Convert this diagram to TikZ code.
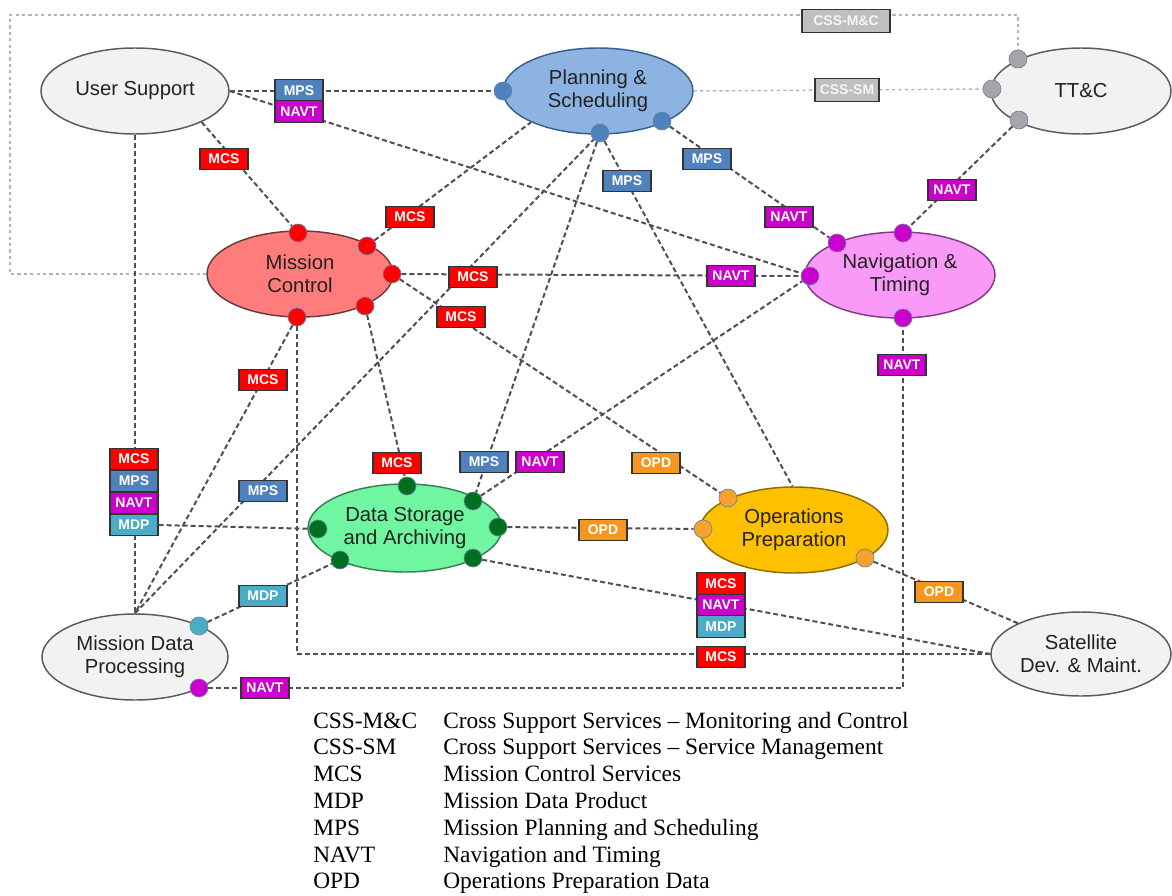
\documentclass[tikz,border=0pt]{standalone}
\usepackage{fontspec}
\setmainfont{Liberation Serif}
\newfontfamily\arialfont{Liberation Sans}
\usetikzlibrary{shapes.geometric}

\definecolor{linkgray}{HTML}{505050}
\definecolor{cssgray}{HTML}{B4B4B4}
\definecolor{usfill}{HTML}{F2F2F2}
\definecolor{usdraw}{HTML}{5A5A5A}
\definecolor{psfill}{HTML}{8DB3E2}
\definecolor{psdraw}{HTML}{3A5F8F}
\definecolor{mcfill}{HTML}{FF7C7C}
\definecolor{mcdraw}{HTML}{6B3A3A}
\definecolor{ntfill}{HTML}{F99AF9}
\definecolor{ntdraw}{HTML}{7F3F7F}
\definecolor{dsfill}{HTML}{70F5A0}
\definecolor{dsdraw}{HTML}{3B7F55}
\definecolor{opfill}{HTML}{FFC000}
\definecolor{opdraw}{HTML}{8C6D00}
\definecolor{mcsred}{HTML}{FF0000}
\definecolor{mpsblue}{HTML}{4F81BD}
\definecolor{navtmag}{HTML}{CC00CC}
\definecolor{mdpteal}{HTML}{4BACC6}
\definecolor{opdorange}{HTML}{F5961E}
\definecolor{cssfill}{HTML}{BFBFBF}
\definecolor{tagedge}{HTML}{333333}
\definecolor{textdark}{HTML}{222222}
\definecolor{dsdot}{HTML}{007020}
\definecolor{opdot}{HTML}{F8A12B}
\definecolor{ttdot}{HTML}{A6A6A6}
\definecolor{dotedge}{HTML}{6A84A8}

\tikzset{
  unit/.style 2 args={ellipse, minimum width=#1*0.75pt, minimum height=#2*0.75pt,
    inner sep=0pt, line width=1.1pt, align=center, text=textdark,
    font=\arialfont\fontsize{15.2}{17.3}\selectfont},
  dot/.style={circle, minimum size=13.5pt, inner sep=0pt, draw=dotedge, line width=0.5pt},
  lnk/.style={draw=linkgray, line width=1.5pt, dash pattern=on 3.75pt off 2.25pt},
  csslnk/.style={draw=cssgray, line width=1.1pt, dash pattern=on 2.4pt off 2.4pt},
  tag/.style={rectangle, draw=tagedge, line width=0.8pt, minimum width=36pt,
    minimum height=16pt, inner sep=0pt, text=white,
    font=\arialfont\bfseries\fontsize{10.5}{12}\selectfont},
  mcs/.style={tag, fill=mcsred},
  mps/.style={tag, fill=mpsblue},
  navt/.style={tag, fill=navtmag},
  mdp/.style={tag, fill=mdpteal},
  opd/.style={tag, fill=opdorange},
  css/.style={tag, fill=cssfill, text=white!92!gray, minimum height=17pt},
  legend/.style={anchor=base west, inner sep=0pt, font=\fontsize{17.55}{20}\selectfont}
}

\begin{document}
\begin{tikzpicture}[x=0.75pt,y=-0.75pt]
\useasboundingbox (0,0) rectangle (1172,896);

% ---- services ----
\node[unit={188}{86}, fill=usfill, draw=usdraw] (us)  at (135,91)  {User Support};
\node[unit={190}{86}, fill=psfill, draw=psdraw] (ps)  at (598,91)  {Planning \&\\Scheduling};
\node[unit={180}{86}, fill=usfill, draw=usdraw] (ttc) at (1081,91) {TT\&C};
\node[unit={186}{86}, fill=mcfill, draw=mcdraw] (mc)  at (300,274) {Mission\\Control};
\node[unit={190}{86}, fill=ntfill, draw=ntdraw] (nt)  at (900,275) {Navigation \&\\Timing};
\node[unit={194}{88}, fill=dsfill, draw=dsdraw] (dsa) at (405,528) {Data Storage\\and Archiving};
\node[unit={188}{86}, fill=opfill, draw=opdraw] (op)  at (794,530) {Operations\\Preparation};
\node[unit={186}{86}, fill=usfill, draw=usdraw] (mdp) at (135,657) {Mission Data\\Processing};
\node[unit={180}{84}, fill=usfill, draw=usdraw] (sdm) at (1081,654) {Satellite\\Dev. \& Maint.};

% ---- interface points ----
\node[dot, fill=mcsred] (mc1) at (298,233) {};
\node[dot, fill=mcsred] (mc2) at (367,246) {};
\node[dot, fill=mcsred] (mc3) at (392,274) {};
\node[dot, fill=mcsred] (mc4) at (365,306) {};
\node[dot, fill=mcsred] (mc5) at (297,317) {};
\node[dot, fill=mpsblue] (ps1) at (503,91) {};
\node[dot, fill=mpsblue] (ps2) at (600,133) {};
\node[dot, fill=mpsblue] (ps3) at (662,121) {};
\node[dot, fill=ttdot] (tt1) at (1018,59) {};
\node[dot, fill=ttdot] (tt2) at (992,89) {};
\node[dot, fill=ttdot] (tt3) at (1019,120) {};
\node[dot, fill=navtmag] (nt1) at (837,243) {};
\node[dot, fill=navtmag] (nt2) at (903,233) {};
\node[dot, fill=navtmag] (nt3) at (810,276) {};
\node[dot, fill=navtmag] (nt4) at (903,318) {};
\node[dot, fill=dsdot] (ds1) at (407,486) {};
\node[dot, fill=dsdot] (ds2) at (473,501) {};
\node[dot, fill=dsdot] (ds3) at (498,527) {};
\node[dot, fill=dsdot] (ds4) at (473,558) {};
\node[dot, fill=dsdot] (ds5) at (318,529) {};
\node[dot, fill=dsdot] (ds6) at (340,560) {};
\node[dot, fill=opdot] (op1) at (728,498) {};
\node[dot, fill=opdot] (op2) at (703,529) {};
\node[dot, fill=opdot] (op3) at (865,558) {};
\node[dot, fill=mdpteal] (md1) at (199,626) {};
\node[dot, fill=navtmag] (md2) at (199,688) {};

% ---- cross support links ----
\coordinate (cbl) at (10,274);
\coordinate (ctl) at (10,15);
\draw[csslnk] (mc.west) -- (cbl) -- (ctl) -| (tt1);
\draw[csslnk] (ps.east) -- (tt2);

% ---- service links ----
\draw[lnk] (us.east) -- (ps1);
\draw[lnk] (us.east) -- (nt3);
\draw[lnk] (us.-25.5) -- (mc1);
\draw[lnk] (us.south) -- (mdp.north);
\draw[lnk] (mc2) -- (ps.205.5);
\draw[lnk] (mc3) -- (nt3);
\draw[lnk] (mc3) -- (op1);
\draw[lnk] (mc4) -- (ds1);
\draw[lnk] (mc5) -- (mdp.north);
\draw[lnk] (mc5) |- (sdm.west);
\draw[lnk] (mdp.north) -- (ps2);
\draw[lnk] (md1) -- (ds6);
\draw[lnk] (md2) -| (nt4);
\draw[lnk] (ps2) -- (ds2);
\draw[lnk] (ds2) -- (nt3);
\draw[lnk] (ps2) -- (op.92);
\draw[lnk] (ps3) -- (nt1);
\draw[lnk] (tt3) -- (nt2);
\draw[lnk] (ds3) -- (op2);
\draw[lnk] (ds4) -- (sdm.west);
\draw[lnk] (op3) -- (sdm.154);

% ---- interface labels ----
\node[css, minimum width=66pt] (tcssmc) at (846,21) {CSS-M\&C};
\node[css, minimum width=48pt] (tcsssm) at (847,90) {CSS-SM};

\node[mps]  (t1)  at (299,90.5) {MPS};
\node[navt] (t2)  at (299,111.5) {NAVT};
\node[mcs]  (t3)  at (224,159) {MCS};
\node[mcs]  (t4)  at (410,217) {MCS};
\node[mcs]  (t5)  at (473,277) {MCS};
\node[navt] (t6)  at (731,276) {NAVT};
\node[mcs]  (t7)  at (461,317) {MCS};
\node[opd]  (t8)  at (656,463) {OPD};
\node[mcs]  (t9)  at (397,463) {MCS};
\node[mcs]  (t10) at (263,380) {MCS};
\node[mcs]  (t11) at (721,657) {MCS};
\node[mps]  (t12) at (263,491) {MPS};
\node[mdp]  (t13) at (263,596) {MDP};
\node[navt] (t14) at (265,688) {NAVT};
\node[navt] (t15) at (902,365) {NAVT};
\node[mps]  (t16) at (484,462) {MPS};
\node[navt] (t17) at (540,462) {NAVT};
\node[mps]  (t18) at (627,181) {MPS};
\node[mps]  (t19) at (707,159) {MPS};
\node[navt] (t20) at (789,217) {NAVT};
\node[navt] (t21) at (952,190) {NAVT};
\node[opd]  (t22) at (603,530) {OPD};
\node[opd]  (t23) at (939,592) {OPD};

% stacked labels on the User Support / Mission Data Processing link
\node[mcs]  (sa1) at (134,459) {MCS};
\node[mps]  (sa2) at (134,481) {MPS};
\node[navt] (sa3) at (134,503) {NAVT};
\node[mdp]  (sa4) at (134,525) {MDP};
\draw[lnk] (sa4.east) -- (ds5);

% stacked labels on the Data Storage / Satellite link
\node[mcs]  (sb1) at (721,583.5) {MCS};
\node[navt] (sb2) at (721,605) {NAVT};
\node[mdp]  (sb3) at (721,626.5) {MDP};

% ---- legend ----
\node[legend] (la1) at (313,728)   {CSS-M\&C};
\node[legend] (la2) at (313,754.8) {CSS-SM};
\node[legend] (la3) at (313,781.6) {MCS};
\node[legend] (la4) at (313,808.4) {MDP};
\node[legend] (la5) at (313,835.2) {MPS};
\node[legend] (la6) at (313,862)   {NAVT};
\node[legend] (la7) at (313,888.8) {OPD};
\node[legend] (lb1) at (443,728)   {Cross Support Services -- Monitoring and Control};
\node[legend] (lb2) at (443,754.8) {Cross Support Services -- Service Management};
\node[legend] (lb3) at (443,781.6) {Mission Control Services};
\node[legend] (lb4) at (443,808.4) {Mission Data Product};
\node[legend] (lb5) at (443,835.2) {Mission Planning and Scheduling};
\node[legend] (lb6) at (443,862)   {Navigation and Timing};
\node[legend] (lb7) at (443,888.8) {Operations Preparation Data};
\end{tikzpicture}
\end{document}
